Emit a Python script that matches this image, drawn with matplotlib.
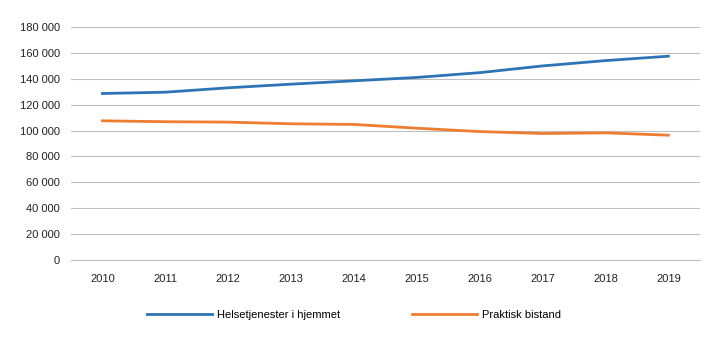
import matplotlib
matplotlib.use('Agg')
import matplotlib.pyplot as plt
from matplotlib.ticker import FuncFormatter

years = ['2010', '2011', '2012', '2013', '2014', '2015', '2016', '2017', '2018', '2019']
helse = [128600, 129600, 133000, 135800, 138400, 141000, 144700, 149900, 154000, 157400]
praktisk = [107500, 106800, 106500, 105200, 104700, 101800, 99200, 97700, 98200, 96400]

plt.rcParams['font.family'] = ['Liberation Sans Narrow', 'Liberation Sans', 'DejaVu Sans']

fig, ax = plt.subplots(figsize=(7.2, 3.41), dpi=100)
plt.subplots_adjust(left=0.0986, right=0.972, top=0.921, bottom=0.2375)

x = range(len(years))
ax.plot(x, helse, color='#2e74b5', lw=2, label='Helsetjenester i hjemmet')
ax.plot(x, praktisk, color='#ed7d31', lw=2, label='Praktisk bistand')

ax.set_xlim(-0.5, len(years) - 0.5)
ax.set_ylim(0, 180000)
ax.set_yticks(range(0, 180001, 20000))
ax.yaxis.set_major_formatter(FuncFormatter(lambda v, p: f'{int(v):,}'.replace(',', ' ')))
ax.set_xticks(list(x))
ax.set_xticklabels(years)
ax.tick_params(length=0, labelsize=8, colors='#222222')
ax.tick_params(axis='x', pad=10)
ax.tick_params(axis='y', pad=8)
ax.grid(axis='y', color='#bfbfbf', lw=0.8)
ax.axhline(0, color='#bfbfbf', lw=0.8, zorder=0, clip_on=False)
ax.set_axisbelow(True)
for s in ax.spines.values():
    s.set_visible(False)

ax.legend(loc='upper center', bbox_to_anchor=(0.45, -0.17), ncol=2, frameon=False,
          fontsize=8, handlelength=5.8, columnspacing=6.5, handletextpad=0.45)

plt.savefig('out.png', dpi=100)
